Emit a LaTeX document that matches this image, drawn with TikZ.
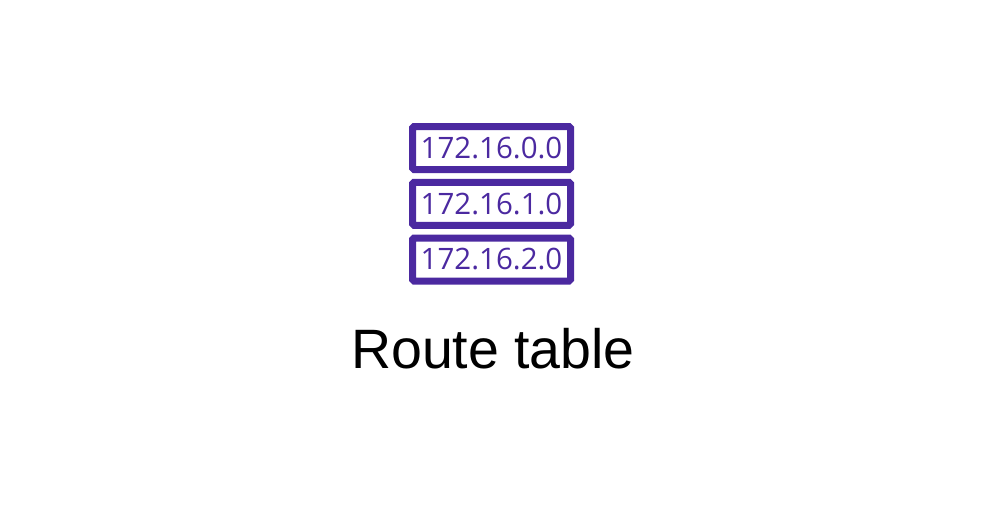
\documentclass[tikz,border=0pt]{standalone}
\usepackage{fontspec}
\setmainfont{Liberation Sans}
\newfontfamily\ipfont{Open Sans}
\usetikzlibrary{positioning}
\definecolor{routepurple}{RGB}{75,41,160}

\begin{document}
\begin{tikzpicture}[
    x=1pt, y=1pt,
    node distance=55.75pt,
    on grid,
    entry/.style={draw=routepurple, line width=7pt, rounded corners=1.5pt, minimum width=158pt, minimum height=43pt, inner sep=0pt, text=routepurple, font=\ipfont\fontsize{29.5}{29.5}\selectfont},
    title/.style={font=\fontsize{55.5}{55.5}\selectfont, anchor=base}
]
   \useasboundingbox (0,0) rectangle (984,-520);

   % Entries
   \node[entry] (r0) at (491.5,-148) {172.16.0.0};
   \node[entry] (r1) [below=of r0] {172.16.1.0};
   \node[entry] (r2) [below=of r1] {172.16.2.0};

   % Label
   \node[title] (label) at (493,-368) {Route table};
\end{tikzpicture}
\end{document}
